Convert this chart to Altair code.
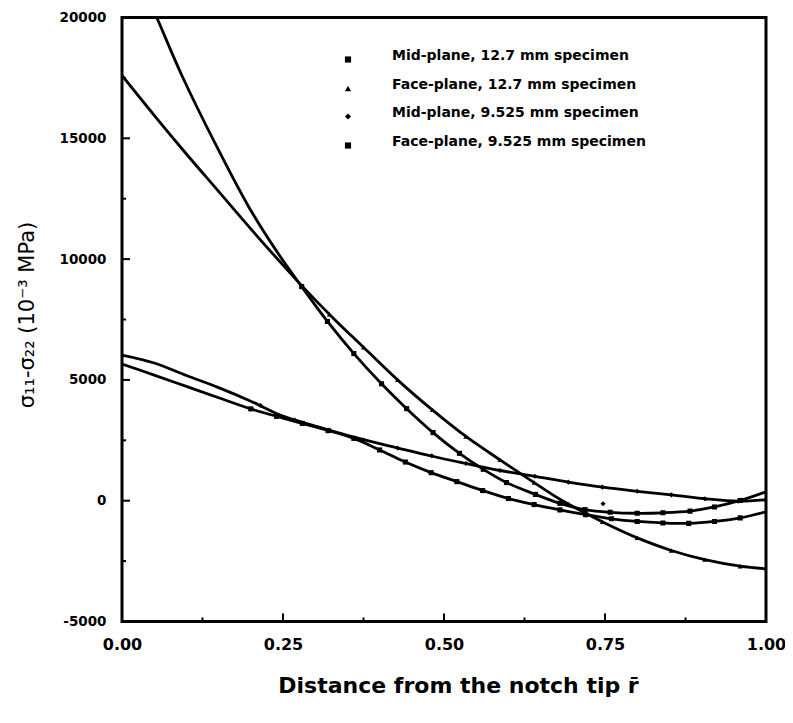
import altair as alt
import pandas as pd

# ---------------- data ----------------
SERIES = ["Mid-plane, 12.7 mm specimen", "Face-plane, 12.7 mm specimen",
          "Mid-plane, 9.525 mm specimen", "Face-plane, 9.525 mm specimen"]
SHAPES = ["square", "triangle-up", "diamond", "square"]

# fitted curves (x = distance from notch tip, y = sigma11 - sigma22)
a_x = [0.0, 0.054, 0.093, 0.144, 0.196, 0.240, 0.279, 0.319, 0.360, 0.403, 0.442, 0.483,
       0.524, 0.561, 0.597, 0.642, 0.680, 0.719, 0.758, 0.800, 0.840, 0.882, 0.920, 0.960, 1.0]
a_y = [23300, 20000, 17600, 14820, 12200, 10330, 8860, 7420, 6090, 4840, 3810, 2820,
       1960, 1300, 750, 260, -110, -370, -480, -520, -500, -430, -260, 10, 370]

b_x = [0.0, 0.05, 0.10, 0.15, 0.20, 0.25, 0.28, 0.33, 0.375, 0.43, 0.48, 0.534, 0.587,
       0.64, 0.68, 0.72, 0.76, 0.80, 0.853, 0.905, 0.96, 1.0]
b_y = [17600, 15950, 14350, 12800, 11250, 9750, 8870, 7500, 6350, 4950, 3800, 2660, 1690,
       750, 60, -520, -1060, -1540, -2060, -2440, -2710, -2820]

c_x = [0.0, 0.05, 0.10, 0.15, 0.20, 0.25, 0.30, 0.36, 0.43, 0.48, 0.534, 0.587, 0.641,
       0.693, 0.746, 0.80, 0.853, 0.905, 0.957, 1.0]
c_y = [6030, 5700, 5180, 4680, 4120, 3500, 3090, 2630, 2170, 1850, 1540, 1250, 1010,
       770, 560, 390, 240, 80, -20, 40]

d_x = [0.0, 0.05, 0.10, 0.15, 0.20, 0.25, 0.30, 0.36, 0.40, 0.44, 0.48, 0.52, 0.56, 0.60,
       0.64, 0.68, 0.72, 0.76, 0.80, 0.84, 0.88, 0.92, 0.96, 1.0]
d_y = [5660, 5200, 4730, 4260, 3800, 3420, 3050, 2580, 2100, 1600, 1160, 790, 420, 90,
       -160, -380, -580, -750, -860, -920, -940, -860, -710, -460]

# measured points
pa_x = [0.279, 0.319, 0.360, 0.403, 0.442, 0.483, 0.524, 0.561, 0.597, 0.642, 0.680, 0.719,
        0.758, 0.800, 0.840, 0.882, 0.920, 0.960]
pa_y = [8860, 7420, 6090, 4840, 3810, 2820, 1960, 1300, 750, 260, -110, -370,
        -480, -520, -500, -430, -260, 10]

pb_x = [0.322, 0.375, 0.428, 0.482, 0.534, 0.587, 0.640, 0.693, 0.746, 0.800, 0.853, 0.905, 0.960]
pb_y = [7720, 6350, 5000, 3760, 2660, 1690, 750, -130, -870, -1540, -2060, -2440, -2710]

pc_x = [0.215, 0.268, 0.322, 0.375, 0.428, 0.481, 0.534, 0.587, 0.641, 0.693, 0.746, 0.747,
        0.800, 0.853, 0.905, 0.957]
pc_y = [3940, 3340, 2920, 2510, 2180, 1860, 1540, 1250, 1010, 770, 560, -125,
        390, 240, 80, -20]

pd_x = [0.20, 0.24, 0.28, 0.32, 0.36, 0.40, 0.44, 0.48, 0.52, 0.56, 0.60, 0.64, 0.68, 0.72,
        0.76, 0.80, 0.84, 0.88, 0.92, 0.96]
pd_y = [3800, 3490, 3200, 2900, 2580, 2100, 1600, 1160, 790, 420, 90, -160, -380, -580,
        -750, -860, -920, -940, -860, -710]

x_major = [0.25, 0.5, 0.75]
x_minor = [0.125, 0.375, 0.625, 0.875]
y_major = [0, 5000, 10000, 15000]
y_minor = [-2500, 2500, 7500, 12500, 17500]
x_labels = [0, 0.25, 0.5, 0.75, 1.0]
y_labels = [-5000, 0, 5000, 10000, 15000, 20000]

# ---------------- frames ----------------
curves = pd.concat([
    pd.DataFrame({"series": s, "x": xs, "y": ys})
    for s, xs, ys in zip(SERIES, [a_x, b_x, c_x, d_x], [a_y, b_y, c_y, d_y])
])
points = pd.concat([
    pd.DataFrame({"series": s, "x": xs, "y": ys})
    for s, xs, ys in zip(SERIES, [pa_x, pb_x, pc_x, pd_x], [pa_y, pb_y, pc_y, pd_y])
])

W, H = 644, 604
FONT = "DejaVu Sans"
XTITLE = "Distance from the notch tip r\u0304"
YTITLE = "σ₁₁-σ₂₂ (10⁻³ MPa)"

xscale = alt.Scale(domain=[0, 1], nice=False, zero=False)
yscale = alt.Scale(domain=[-5000, 20000], nice=False, zero=False)

x_axis = alt.Axis(values=x_labels, format=".2f", ticks=False, tickSize=0, domain=False,
                  grid=False, labelFlush=False, labelOverlap=False,
                  labelFont=FONT, labelFontWeight="bold", labelFontSize=16,
                  labelColor="black", labelPadding=15,
                  title=XTITLE, titleFont=FONT,
                  titleFontSize=22, titleFontWeight="bold", titleColor="black",
                  titleX=336, titleY=64, titleBaseline="middle", titleAlign="center")
y_axis = alt.Axis(values=y_labels, format="d", ticks=False, tickSize=0, domain=False,
                  grid=False, labelFlush=False, labelOverlap=False,
                  labelExpr="replace(datum.label, '\u2212', '-')",
                  labelFont=FONT, labelFontWeight="bold", labelFontSize=13.5,
                  labelColor="black", labelPadding=16,
                  title=YTITLE, titleFont=FONT, titleFontSize=21,
                  titleFontWeight="normal", titleColor="black", titleAngle=270,
                  titleX=-95, titleY=H / 2 - 5, titleBaseline="middle", titleAlign="center")


def X(field):
    return alt.X(field, scale=xscale, axis=x_axis, title=XTITLE)


def Y(field):
    return alt.Y(field, scale=yscale, axis=y_axis, title=YTITLE)


lines = alt.Chart(curves).mark_line(color="black", strokeWidth=2.8,
                                    interpolate="catmull-rom", clip=True).encode(
    x=X("x:Q"), y=Y("y:Q"), detail="series:N",
)

pts = alt.Chart(points).mark_point(filled=True, color="black", opacity=1, size=26,
                                   clip=True).encode(
    x=X("x:Q"), y=Y("y:Q"),
    shape=alt.Shape("series:N", scale=alt.Scale(domain=SERIES, range=SHAPES),
                    legend=alt.Legend(title=None, orient="none", legendX=219, legendY=35,
                                      padding=0, labelFont=FONT, labelFontWeight="bold",
                                      labelFontSize=14, labelColor="black", labelLimit=400,
                                      symbolSize=38, symbolFillColor="black",
                                      symbolStrokeColor="black", symbolStrokeWidth=0,
                                      labelOffset=37, rowPadding=14,
                                      labelBaseline="alphabetic")),
)


def xticks(vals, length):
    return alt.Chart(pd.DataFrame({"x": vals})).mark_rule(color="black", strokeWidth=2).encode(
        x=X("x:Q"), y=alt.value(H), y2=alt.value(H - length))


def yticks(vals, length):
    return alt.Chart(pd.DataFrame({"y": vals})).mark_rule(color="black", strokeWidth=2).encode(
        y=Y("y:Q"), x=alt.value(0), x2=alt.value(length))


chart = alt.layer(
    lines, pts,
    xticks(x_major, 8), xticks(x_minor, 4),
    yticks(y_major, 8), yticks(y_minor, 4),
).properties(
    width=W, height=H,
    autosize=alt.AutoSizeParams(type="none"),
    padding={"left": 114, "top": 9.5, "right": 19, "bottom": 93},
    background="white",
).configure_view(stroke="black", strokeWidth=3)

chart.save("out.html", embed_options={"renderer": "svg", "actions": False})
